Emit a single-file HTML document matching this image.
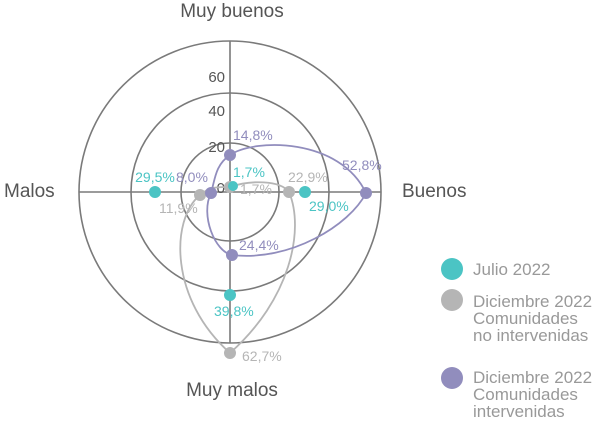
<!DOCTYPE html>
<html><head><meta charset="utf-8"><style>body{margin:0;background:#fff}svg{display:block}</style></head><body>
<svg width="600" height="429" viewBox="0 0 600 429" font-family="Liberation Sans, sans-serif">
<g fill="none" stroke="#7a7a7a" stroke-width="1.6">
<circle cx="230" cy="192" r="49"/>
<circle cx="230" cy="192" r="99"/>
<circle cx="230" cy="192" r="151"/>
<line x1="230" y1="41" x2="230" y2="343"/>
<line x1="79" y1="192" x2="381" y2="192"/>
</g>
<g font-size="15" fill="#555" text-anchor="end">
<text x="225" y="82">60</text><text x="225" y="116">40</text><text x="225" y="152">20</text><text x="225" y="193">0</text>
</g>
<g font-size="19" fill="#555">
<text x="232" y="17" text-anchor="middle">Muy buenos</text>
<text x="232" y="396" text-anchor="middle">Muy malos</text>
<text x="4" y="197">Malos</text>
<text x="402" y="197">Buenos</text>
</g>
<path d="M230,187 C250,180 280,180 289,192 C305,230 290,300 230,353 C170,300 170,220 200,195 C210,186 220,187 230,187Z" fill="none" stroke="#b5b5b5" stroke-width="1.8"/>
<path d="M230,155 C255,138 340,138 366,193 C350,225 290,262 232,255 C215,252 200,215 211,193 C215,180 215,165 230,155Z" fill="none" stroke="#918dbd" stroke-width="1.8"/>
<g fill="#b5b5b5"><circle cx="230" cy="187" r="6"/><circle cx="289" cy="192" r="6"/><circle cx="230" cy="353" r="6"/><circle cx="200" cy="195" r="6"/></g>
<g fill="#4bc4c4"><circle cx="233" cy="186" r="5"/><circle cx="305" cy="192" r="6"/><circle cx="230" cy="295" r="6"/><circle cx="155" cy="192" r="6"/></g>
<g fill="#918dbd"><circle cx="230" cy="155" r="6"/><circle cx="366" cy="193" r="6"/><circle cx="232" cy="255" r="6"/><circle cx="211" cy="193" r="6"/></g>
<g font-size="14">
<g fill="#4bc4c4"><text x="233" y="177">1,7%</text><text x="309" y="211">29,0%</text><text x="155" y="182" text-anchor="middle">29,5%</text><text x="214" y="316">39,8%</text></g>
<g fill="#b5b5b5"><text x="240" y="194">1,7%</text><text x="288" y="182">22,9%</text><text x="159" y="213">11,9%</text><text x="242" y="361">62,7%</text></g>
<g fill="#918dbd"><text x="233" y="140">14,8%</text><text x="342" y="170">52,8%</text><text x="239" y="250">24,4%</text><text x="176" y="182">8,0%</text></g>
</g>
<circle cx="452" cy="269" r="11" fill="#4bc4c4"/>
<circle cx="452" cy="300" r="11" fill="#b5b5b5"/>
<circle cx="452" cy="378" r="11" fill="#918dbd"/>
<g font-size="17" fill="#999">
<text x="473" y="275">Julio 2022</text>
<text x="473" y="307">Diciembre 2022</text><text x="473" y="324">Comunidades</text><text x="473" y="341">no intervenidas</text>
<text x="473" y="383">Diciembre 2022</text><text x="473" y="400">Comunidades</text><text x="473" y="417">intervenidas</text>
</g>
</svg>
</body></html>
